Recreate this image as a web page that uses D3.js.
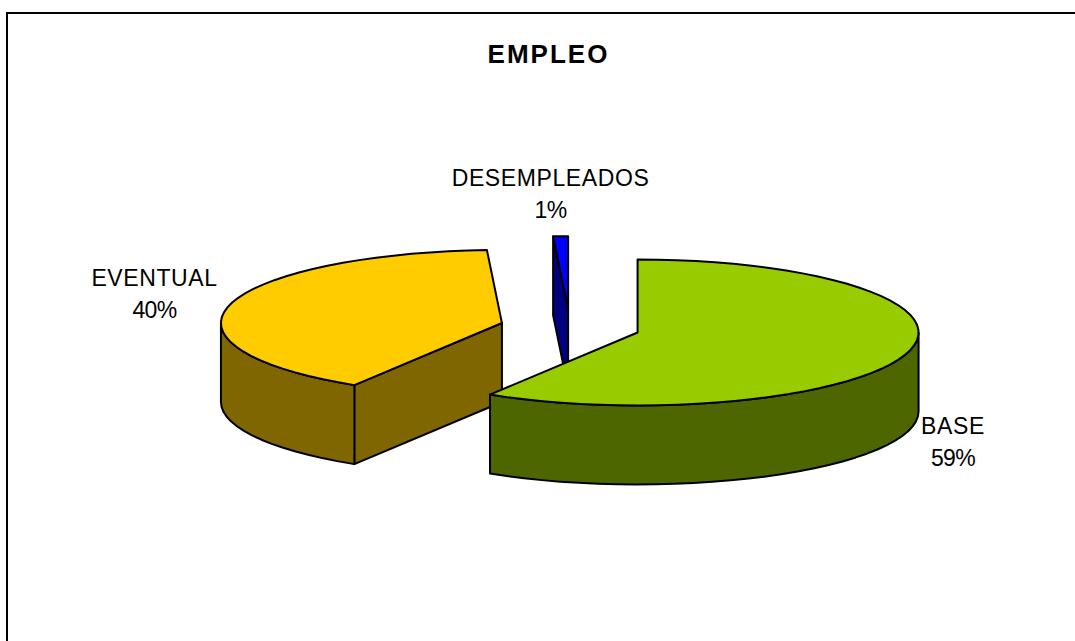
<!DOCTYPE html>
<html>
<head>
<meta charset="utf-8">
<script src="https://cdn.jsdelivr.net/npm/d3@7"></script>
<style>
  html, body { margin: 0; padding: 0; background: #fff; }
  svg { display: block; }
  text { font-family: "Liberation Sans", Arial, sans-serif; fill: #000; text-anchor: middle; }
</style>
</head>
<body>
<svg id="chart" width="1075" height="641"></svg>
<script>
// Chart data, pie order runs clockwise from 12 o'clock
let categories = ['BASE', 'EVENTUAL', 'DESEMPLEADOS'];
let values = [58.8, 40.35, 0.85];
let topColors = ['#99cc00', '#ffcc00', '#0000ff'];
let wallColors = ['#4d6600', '#806600', '#000080'];
let chartTitle = 'EMPLEO';

// ---------------------------------------------
// Layout
// ---------------------------------------------
const width = 1075;
const height = 641;
const centerX = 570;
const centerY = 327.5;
const radiusX = 281;
const radiusY = 73;
const depth = 79;
const explode = 0.25;

// label anchor for each category: [x, first baseline]
const labelPos = {
	BASE: [953, 434],
	EVENTUAL: [154.5, 286],
	DESEMPLEADOS: [550.5, 186]
};

let svg = d3.select('#chart');

let scaleX = d3.scaleLinear().domain([-1, 1]).range([-radiusX, radiusX]);
let scaleY = d3.scaleLinear().domain([-1, 1]).range([radiusY, -radiusY]);

let total = d3.sum(values);
let pct = d3.format('.0%');

let pie = d3.pie().sort(null).value((d) => d.value);
let slices = pie(categories.map((name, i) => ({name: name, value: values[i], index: i})));

let linePath = d3.line().x((d) => d[0]).y((d) => d[1]);

// Point on the top ellipse of a slice, angle is clockwise from 12 o'clock
let rimPoint = function(apex, angle) {
	return [apex[0] + scaleX(Math.sin(angle)), apex[1] + scaleY(Math.cos(angle))];
};

// Rim points from a0 to a1, sampled coarsely like the original chart
let rimPoints = function(apex, a0, a1) {
	let step = Math.PI / 45;
	let n = Math.max(1, Math.ceil((a1 - a0) / step));
	return d3.range(n + 1).map((i) => rimPoint(apex, a0 + (a1 - a0) * i / n));
};

let drop = (points) => points.map((p) => [p[0], p[1] + depth]);

let shape = function(points, fill) {
	svg.append('path')
		.attr('d', linePath(points) + 'Z')
		.attr('fill', fill)
		.attr('stroke', '#000')
		.attr('stroke-width', 2)
		.attr('stroke-linejoin', 'round');
};

// Draws one exploded slice: side walls first, lid on top
let drawSlice = function(slice) {
	let mid = (slice.startAngle + slice.endAngle) / 2;
	let apex = [
		centerX + explode * scaleX(Math.sin(mid)),
		centerY + explode * scaleY(Math.cos(mid))
	];
	let a0 = slice.startAngle;
	let a1 = slice.endAngle;
	let wall = wallColors[slice.data.index];

	// cut face turned to the viewer
	if (a0 > Math.PI) {
		let edge = [apex, rimPoint(apex, a0)];
		shape(edge.concat(drop(edge).reverse()), wall);
	}

	// outer wall, the part of the rim on the front half
	let w0 = Math.max(a0, Math.PI / 2);
	let w1 = Math.min(a1, 1.5 * Math.PI);
	if (w1 > w0) {
		let rim = rimPoints(apex, w0, w1);
		shape(rim.concat(drop(rim).reverse()), wall);
	}

	shape([apex].concat(rimPoints(apex, a0, a1)), topColors[slice.data.index]);
};

// Frame, only top and left edges are inside the picture
svg.append('path')
	.attr('d', linePath([[7, height], [7, 13], [width, 13]]))
	.attr('fill', 'none')
	.attr('stroke', '#000')
	.attr('stroke-width', 2);

svg.append('text')
	.attr('x', 548.5)
	.attr('y', 63)
	.attr('font-size', 26)
	.attr('font-weight', 'bold')
	.attr('letter-spacing', 2)
	.text(chartTitle);

// Back to front: the big green slice overlaps the other two
slices.slice().reverse().forEach(drawSlice);

// Labels
slices.forEach((slice) => {
	let pos = labelPos[slice.data.name];
	svg.append('text')
		.attr('x', pos[0])
		.attr('y', pos[1])
		.attr('font-size', 23)
		.attr('letter-spacing', 0.6)
		.text(slice.data.name);
	svg.append('text')
		.attr('x', pos[0])
		.attr('y', pos[1] + 32)
		.attr('font-size', 23)
		.attr('letter-spacing', -0.6)
		.text(pct(slice.data.value / total));
});
</script>
</body>
</html>
